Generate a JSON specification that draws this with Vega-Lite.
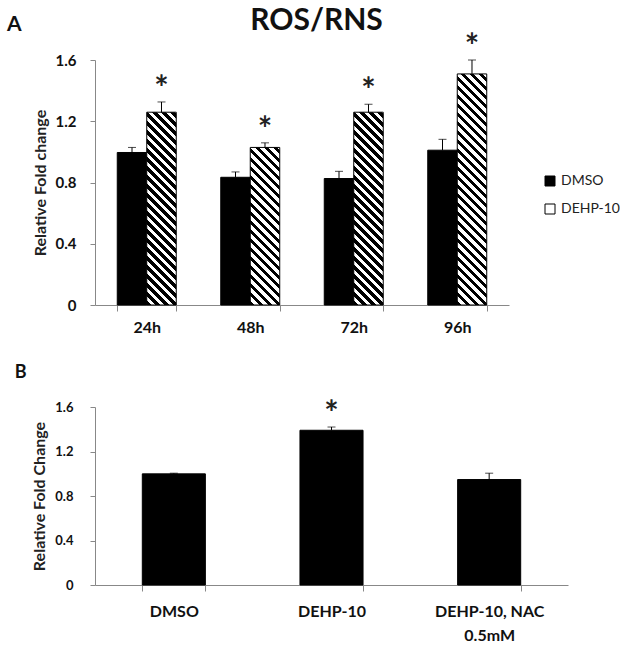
{
  "$schema": "https://vega.github.io/schema/vega-lite/v6.json",
  "padding": {"left": 7, "top": 6, "right": 0, "bottom": 0},
  "title": {"text": "ROS/RNS", "font": "Lato", "fontSize": 30, "fontWeight": "bold", "color": "#111", "anchor": "middle", "dx": 3, "dy": 22, "offset": 0},
  "spacing": 29,
  "config": {"view": {"stroke": null}, "font": "Lato"},
  "vconcat": [
    {
      "width": 414,
      "height": 245,
      "title": {"text": "A", "anchor": "start", "frame": "bounds", "fontSize": 21, "fontWeight": "bold", "font": "Lato", "color": "#111", "dx": -25, "dy": 4, "offset": 0},
      "data": {"values": [
        {"time": "24h", "group": "DMSO", "value": 0.996, "upper": 1.029, "sig": ""},
        {"time": "24h", "group": "DEHP-10", "value": 1.259, "upper": 1.326, "sig": "*"},
        {"time": "48h", "group": "DMSO", "value": 0.834, "upper": 0.869, "sig": ""},
        {"time": "48h", "group": "DEHP-10", "value": 1.029, "upper": 1.059, "sig": "*"},
        {"time": "72h", "group": "DMSO", "value": 0.826, "upper": 0.873, "sig": ""},
        {"time": "72h", "group": "DEHP-10", "value": 1.259, "upper": 1.311, "sig": "*"},
        {"time": "96h", "group": "DMSO", "value": 1.011, "upper": 1.082, "sig": ""},
        {"time": "96h", "group": "DEHP-10", "value": 1.509, "upper": 1.6, "sig": "*"}
      ]},
      "encoding": {
        "x": {"field": "time", "type": "nominal", "sort": ["24h", "48h", "72h", "96h"],
          "scale": {"paddingInner": 0.43, "paddingOuter": 0.215},
          "axis": {"title": null, "labelAngle": 0, "labelFont": "Lato", "labelFontSize": 16, "labelFontWeight": "bold", "labelColor": "#111", "domainColor": "#888", "tickColor": "#888", "tickSize": 6, "tickBand": "extent", "labelPadding": 8}},
        "xOffset": {"field": "group", "type": "nominal", "sort": ["DMSO", "DEHP-10"], "scale": {"paddingInner": 0, "paddingOuter": 0}}
      },
      "layer": [
        {
          "mark": {"type": "bar", "stroke": "#000", "strokeWidth": 1},
          "encoding": {
            "y": {"field": "value", "type": "quantitative", "title": "Relative Fold change",
              "scale": {"domain": [0, 1.6], "nice": false},
              "axis": {"values": [0, 0.4, 0.8, 1.2, 1.6], "format": "~f", "grid": false, "domainColor": "#888", "tickColor": "#888", "tickSize": 5, "labelPadding": 14, "labelFont": "Lato", "labelFontSize": 15, "labelFontWeight": "bold", "labelColor": "#111", "titleFont": "Lato", "titleFontSize": 16, "titleFontWeight": "bold", "titleColor": "#222", "titlePadding": 7}},
            "fill": {
              "field": "group", "type": "nominal",
              "scale": {"domain": ["DMSO", "DEHP-10"], "range": ["#000", "#fff"]},
              "legend": {"title": null, "orient": "none", "legendX": 448, "legendY": 114, "symbolType": "square", "symbolSize": 100, "symbolStrokeColor": "#000", "symbolStrokeWidth": 1, "labelFont": "Lato", "labelFontSize": 14, "labelColor": "#222", "rowPadding": 14, "labelOffset": 4},
              "condition": [
                {"test": "datum.group === 'DEHP-10' && (datum.time === '24h' || datum.time === '72h')",
                 "value": {"gradient": "linear", "x1": 0, "y1": 1, "x2": 0.27888, "y2": -0.8236, "stops": [
                  {"offset": 0, "color": "#000"}, {"offset": 0.0125, "color": "#000"}, {"offset": 0.0125, "color": "#fff"}, {"offset": 0.025, "color": "#fff"},
                  {"offset": 0.025, "color": "#000"}, {"offset": 0.0375, "color": "#000"}, {"offset": 0.0375, "color": "#fff"}, {"offset": 0.05, "color": "#fff"},
                  {"offset": 0.05, "color": "#000"}, {"offset": 0.0625, "color": "#000"}, {"offset": 0.0625, "color": "#fff"}, {"offset": 0.075, "color": "#fff"},
                  {"offset": 0.075, "color": "#000"}, {"offset": 0.0875, "color": "#000"}, {"offset": 0.0875, "color": "#fff"}, {"offset": 0.1, "color": "#fff"},
                  {"offset": 0.1, "color": "#000"}, {"offset": 0.1125, "color": "#000"}, {"offset": 0.1125, "color": "#fff"}, {"offset": 0.125, "color": "#fff"},
                  {"offset": 0.125, "color": "#000"}, {"offset": 0.1375, "color": "#000"}, {"offset": 0.1375, "color": "#fff"}, {"offset": 0.15, "color": "#fff"},
                  {"offset": 0.15, "color": "#000"}, {"offset": 0.1625, "color": "#000"}, {"offset": 0.1625, "color": "#fff"}, {"offset": 0.175, "color": "#fff"},
                  {"offset": 0.175, "color": "#000"}, {"offset": 0.1875, "color": "#000"}, {"offset": 0.1875, "color": "#fff"}, {"offset": 0.2, "color": "#fff"},
                  {"offset": 0.2, "color": "#000"}, {"offset": 0.2125, "color": "#000"}, {"offset": 0.2125, "color": "#fff"}, {"offset": 0.225, "color": "#fff"},
                  {"offset": 0.225, "color": "#000"}, {"offset": 0.2375, "color": "#000"}, {"offset": 0.2375, "color": "#fff"}, {"offset": 0.25, "color": "#fff"},
                  {"offset": 0.25, "color": "#000"}, {"offset": 0.2625, "color": "#000"}, {"offset": 0.2625, "color": "#fff"}, {"offset": 0.275, "color": "#fff"},
                  {"offset": 0.275, "color": "#000"}, {"offset": 0.2875, "color": "#000"}, {"offset": 0.2875, "color": "#fff"}, {"offset": 0.3, "color": "#fff"},
                  {"offset": 0.3, "color": "#000"}, {"offset": 0.3125, "color": "#000"}, {"offset": 0.3125, "color": "#fff"}, {"offset": 0.325, "color": "#fff"},
                  {"offset": 0.325, "color": "#000"}, {"offset": 0.3375, "color": "#000"}, {"offset": 0.3375, "color": "#fff"}, {"offset": 0.35, "color": "#fff"},
                  {"offset": 0.35, "color": "#000"}, {"offset": 0.3625, "color": "#000"}, {"offset": 0.3625, "color": "#fff"}, {"offset": 0.375, "color": "#fff"},
                  {"offset": 0.375, "color": "#000"}, {"offset": 0.3875, "color": "#000"}, {"offset": 0.3875, "color": "#fff"}, {"offset": 0.4, "color": "#fff"},
                  {"offset": 0.4, "color": "#000"}, {"offset": 0.4125, "color": "#000"}, {"offset": 0.4125, "color": "#fff"}, {"offset": 0.425, "color": "#fff"},
                  {"offset": 0.425, "color": "#000"}, {"offset": 0.4375, "color": "#000"}, {"offset": 0.4375, "color": "#fff"}, {"offset": 0.45, "color": "#fff"},
                  {"offset": 0.45, "color": "#000"}, {"offset": 0.4625, "color": "#000"}, {"offset": 0.4625, "color": "#fff"}, {"offset": 0.475, "color": "#fff"},
                  {"offset": 0.475, "color": "#000"}, {"offset": 0.4875, "color": "#000"}, {"offset": 0.4875, "color": "#fff"}, {"offset": 0.5, "color": "#fff"},
                  {"offset": 0.5, "color": "#000"}, {"offset": 0.5125, "color": "#000"}, {"offset": 0.5125, "color": "#fff"}, {"offset": 0.525, "color": "#fff"},
                  {"offset": 0.525, "color": "#000"}, {"offset": 0.5375, "color": "#000"}, {"offset": 0.5375, "color": "#fff"}, {"offset": 0.55, "color": "#fff"},
                  {"offset": 0.55, "color": "#000"}, {"offset": 0.5625, "color": "#000"}, {"offset": 0.5625, "color": "#fff"}, {"offset": 0.575, "color": "#fff"},
                  {"offset": 0.575, "color": "#000"}, {"offset": 0.5875, "color": "#000"}, {"offset": 0.5875, "color": "#fff"}, {"offset": 0.6, "color": "#fff"},
                  {"offset": 0.6, "color": "#000"}, {"offset": 0.6125, "color": "#000"}, {"offset": 0.6125, "color": "#fff"}, {"offset": 0.625, "color": "#fff"}]}},
                {"test": "datum.group === 'DEHP-10' && datum.time === '48h'",
                 "value": {"gradient": "linear", "x1": 0, "y1": 1, "x2": 0.4126, "y2": -1.20563, "stops": [
                  {"offset": 0, "color": "#000"}, {"offset": 0.0125, "color": "#000"}, {"offset": 0.0125, "color": "#fff"}, {"offset": 0.025, "color": "#fff"},
                  {"offset": 0.025, "color": "#000"}, {"offset": 0.0375, "color": "#000"}, {"offset": 0.0375, "color": "#fff"}, {"offset": 0.05, "color": "#fff"},
                  {"offset": 0.05, "color": "#000"}, {"offset": 0.0625, "color": "#000"}, {"offset": 0.0625, "color": "#fff"}, {"offset": 0.075, "color": "#fff"},
                  {"offset": 0.075, "color": "#000"}, {"offset": 0.0875, "color": "#000"}, {"offset": 0.0875, "color": "#fff"}, {"offset": 0.1, "color": "#fff"},
                  {"offset": 0.1, "color": "#000"}, {"offset": 0.1125, "color": "#000"}, {"offset": 0.1125, "color": "#fff"}, {"offset": 0.125, "color": "#fff"},
                  {"offset": 0.125, "color": "#000"}, {"offset": 0.1375, "color": "#000"}, {"offset": 0.1375, "color": "#fff"}, {"offset": 0.15, "color": "#fff"},
                  {"offset": 0.15, "color": "#000"}, {"offset": 0.1625, "color": "#000"}, {"offset": 0.1625, "color": "#fff"}, {"offset": 0.175, "color": "#fff"},
                  {"offset": 0.175, "color": "#000"}, {"offset": 0.1875, "color": "#000"}, {"offset": 0.1875, "color": "#fff"}, {"offset": 0.2, "color": "#fff"},
                  {"offset": 0.2, "color": "#000"}, {"offset": 0.2125, "color": "#000"}, {"offset": 0.2125, "color": "#fff"}, {"offset": 0.225, "color": "#fff"},
                  {"offset": 0.225, "color": "#000"}, {"offset": 0.2375, "color": "#000"}, {"offset": 0.2375, "color": "#fff"}, {"offset": 0.25, "color": "#fff"},
                  {"offset": 0.25, "color": "#000"}, {"offset": 0.2625, "color": "#000"}, {"offset": 0.2625, "color": "#fff"}, {"offset": 0.275, "color": "#fff"},
                  {"offset": 0.275, "color": "#000"}, {"offset": 0.2875, "color": "#000"}, {"offset": 0.2875, "color": "#fff"}, {"offset": 0.3, "color": "#fff"},
                  {"offset": 0.3, "color": "#000"}, {"offset": 0.3125, "color": "#000"}, {"offset": 0.3125, "color": "#fff"}, {"offset": 0.325, "color": "#fff"},
                  {"offset": 0.325, "color": "#000"}, {"offset": 0.3375, "color": "#000"}, {"offset": 0.3375, "color": "#fff"}, {"offset": 0.35, "color": "#fff"},
                  {"offset": 0.35, "color": "#000"}, {"offset": 0.3625, "color": "#000"}, {"offset": 0.3625, "color": "#fff"}, {"offset": 0.375, "color": "#fff"},
                  {"offset": 0.375, "color": "#000"}, {"offset": 0.3875, "color": "#000"}, {"offset": 0.3875, "color": "#fff"}, {"offset": 0.4, "color": "#fff"},
                  {"offset": 0.4, "color": "#000"}, {"offset": 0.4125, "color": "#000"}, {"offset": 0.4125, "color": "#fff"}, {"offset": 0.425, "color": "#fff"},
                  {"offset": 0.425, "color": "#000"}, {"offset": 0.4375, "color": "#000"}, {"offset": 0.4375, "color": "#fff"}, {"offset": 0.45, "color": "#fff"},
                  {"offset": 0.45, "color": "#000"}, {"offset": 0.4625, "color": "#000"}, {"offset": 0.4625, "color": "#fff"}, {"offset": 0.475, "color": "#fff"},
                  {"offset": 0.475, "color": "#000"}, {"offset": 0.4875, "color": "#000"}, {"offset": 0.4875, "color": "#fff"}, {"offset": 0.5, "color": "#fff"},
                  {"offset": 0.5, "color": "#000"}, {"offset": 0.5125, "color": "#000"}, {"offset": 0.5125, "color": "#fff"}, {"offset": 0.525, "color": "#fff"}]}},
                {"test": "datum.group === 'DEHP-10' && datum.time === '96h'",
                 "value": {"gradient": "linear", "x1": 0, "y1": 1, "x2": 0.19549, "y2": -0.53215, "stops": [
                  {"offset": 0, "color": "#000"}, {"offset": 0.0125, "color": "#000"}, {"offset": 0.0125, "color": "#fff"}, {"offset": 0.025, "color": "#fff"},
                  {"offset": 0.025, "color": "#000"}, {"offset": 0.0375, "color": "#000"}, {"offset": 0.0375, "color": "#fff"}, {"offset": 0.05, "color": "#fff"},
                  {"offset": 0.05, "color": "#000"}, {"offset": 0.0625, "color": "#000"}, {"offset": 0.0625, "color": "#fff"}, {"offset": 0.075, "color": "#fff"},
                  {"offset": 0.075, "color": "#000"}, {"offset": 0.0875, "color": "#000"}, {"offset": 0.0875, "color": "#fff"}, {"offset": 0.1, "color": "#fff"},
                  {"offset": 0.1, "color": "#000"}, {"offset": 0.1125, "color": "#000"}, {"offset": 0.1125, "color": "#fff"}, {"offset": 0.125, "color": "#fff"},
                  {"offset": 0.125, "color": "#000"}, {"offset": 0.1375, "color": "#000"}, {"offset": 0.1375, "color": "#fff"}, {"offset": 0.15, "color": "#fff"},
                  {"offset": 0.15, "color": "#000"}, {"offset": 0.1625, "color": "#000"}, {"offset": 0.1625, "color": "#fff"}, {"offset": 0.175, "color": "#fff"},
                  {"offset": 0.175, "color": "#000"}, {"offset": 0.1875, "color": "#000"}, {"offset": 0.1875, "color": "#fff"}, {"offset": 0.2, "color": "#fff"},
                  {"offset": 0.2, "color": "#000"}, {"offset": 0.2125, "color": "#000"}, {"offset": 0.2125, "color": "#fff"}, {"offset": 0.225, "color": "#fff"},
                  {"offset": 0.225, "color": "#000"}, {"offset": 0.2375, "color": "#000"}, {"offset": 0.2375, "color": "#fff"}, {"offset": 0.25, "color": "#fff"},
                  {"offset": 0.25, "color": "#000"}, {"offset": 0.2625, "color": "#000"}, {"offset": 0.2625, "color": "#fff"}, {"offset": 0.275, "color": "#fff"},
                  {"offset": 0.275, "color": "#000"}, {"offset": 0.2875, "color": "#000"}, {"offset": 0.2875, "color": "#fff"}, {"offset": 0.3, "color": "#fff"},
                  {"offset": 0.3, "color": "#000"}, {"offset": 0.3125, "color": "#000"}, {"offset": 0.3125, "color": "#fff"}, {"offset": 0.325, "color": "#fff"},
                  {"offset": 0.325, "color": "#000"}, {"offset": 0.3375, "color": "#000"}, {"offset": 0.3375, "color": "#fff"}, {"offset": 0.35, "color": "#fff"},
                  {"offset": 0.35, "color": "#000"}, {"offset": 0.3625, "color": "#000"}, {"offset": 0.3625, "color": "#fff"}, {"offset": 0.375, "color": "#fff"},
                  {"offset": 0.375, "color": "#000"}, {"offset": 0.3875, "color": "#000"}, {"offset": 0.3875, "color": "#fff"}, {"offset": 0.4, "color": "#fff"},
                  {"offset": 0.4, "color": "#000"}, {"offset": 0.4125, "color": "#000"}, {"offset": 0.4125, "color": "#fff"}, {"offset": 0.425, "color": "#fff"},
                  {"offset": 0.425, "color": "#000"}, {"offset": 0.4375, "color": "#000"}, {"offset": 0.4375, "color": "#fff"}, {"offset": 0.45, "color": "#fff"},
                  {"offset": 0.45, "color": "#000"}, {"offset": 0.4625, "color": "#000"}, {"offset": 0.4625, "color": "#fff"}, {"offset": 0.475, "color": "#fff"},
                  {"offset": 0.475, "color": "#000"}, {"offset": 0.4875, "color": "#000"}, {"offset": 0.4875, "color": "#fff"}, {"offset": 0.5, "color": "#fff"},
                  {"offset": 0.5, "color": "#000"}, {"offset": 0.5125, "color": "#000"}, {"offset": 0.5125, "color": "#fff"}, {"offset": 0.525, "color": "#fff"},
                  {"offset": 0.525, "color": "#000"}, {"offset": 0.5375, "color": "#000"}, {"offset": 0.5375, "color": "#fff"}, {"offset": 0.55, "color": "#fff"},
                  {"offset": 0.55, "color": "#000"}, {"offset": 0.5625, "color": "#000"}, {"offset": 0.5625, "color": "#fff"}, {"offset": 0.575, "color": "#fff"},
                  {"offset": 0.575, "color": "#000"}, {"offset": 0.5875, "color": "#000"}, {"offset": 0.5875, "color": "#fff"}, {"offset": 0.6, "color": "#fff"},
                  {"offset": 0.6, "color": "#000"}, {"offset": 0.6125, "color": "#000"}, {"offset": 0.6125, "color": "#fff"}, {"offset": 0.625, "color": "#fff"},
                  {"offset": 0.625, "color": "#000"}, {"offset": 0.6375, "color": "#000"}, {"offset": 0.6375, "color": "#fff"}, {"offset": 0.65, "color": "#fff"},
                  {"offset": 0.65, "color": "#000"}, {"offset": 0.6625, "color": "#000"}, {"offset": 0.6625, "color": "#fff"}, {"offset": 0.675, "color": "#fff"},
                  {"offset": 0.675, "color": "#000"}, {"offset": 0.6875, "color": "#000"}, {"offset": 0.6875, "color": "#fff"}, {"offset": 0.7, "color": "#fff"},
                  {"offset": 0.7, "color": "#000"}, {"offset": 0.7125, "color": "#000"}, {"offset": 0.7125, "color": "#fff"}, {"offset": 0.725, "color": "#fff"},
                  {"offset": 0.725, "color": "#000"}, {"offset": 0.7375, "color": "#000"}, {"offset": 0.7375, "color": "#fff"}, {"offset": 0.75, "color": "#fff"}]}}
              ]
            }
          }
        },
        {
          "mark": {"type": "rule", "color": "#000", "strokeWidth": 1},
          "encoding": {
            "y": {"field": "upper", "type": "quantitative", "title": "Relative Fold change"},
            "y2": {"field": "value"}
          }
        },
        {
          "mark": {"type": "tick", "color": "#000", "thickness": 1, "size": 8},
          "encoding": {"y": {"field": "upper", "type": "quantitative", "title": "Relative Fold change"}}
        },
        {
          "mark": {"type": "text", "font": "Lato", "fontSize": 34, "fontWeight": "bold", "color": "#222", "baseline": "alphabetic", "dy": -2},
          "encoding": {
            "y": {"field": "upper", "type": "quantitative", "title": "Relative Fold change"},
            "text": {"field": "sig"}
          }
        }
      ]
    },
    {
      "width": 473,
      "height": 178,
      "title": {"text": "B", "anchor": "start", "frame": "bounds", "fontSize": 18, "fontWeight": "bold", "font": "Lato", "color": "#111", "dx": -17, "offset": 16},
      "data": {"values": [
        {"cond": "DMSO", "value": 0.999, "upper": 1.005, "sig": ""},
        {"cond": "DEHP-10", "value": 1.391, "upper": 1.42, "sig": "*"},
        {"cond": "DEHP-10, NAC 0.5mM", "value": 0.948, "upper": 1.005, "sig": ""}
      ]},
      "encoding": {
        "x": {"field": "cond", "type": "nominal", "sort": ["DMSO", "DEHP-10", "DEHP-10, NAC 0.5mM"],
          "scale": {"paddingInner": 0.6, "paddingOuter": 0.3},
          "axis": {"title": null, "labelAngle": 0, "labelFont": "Lato", "labelFontSize": 16, "labelFontWeight": "bold", "labelColor": "#111", "domainColor": "#888", "tickColor": "#888", "tickSize": 6, "tickBand": "extent", "labelPadding": 12, "labelLineHeight": 24,
            "labelExpr": "datum.value === 'DEHP-10, NAC 0.5mM' ? ['DEHP-10, NAC', '0.5mM'] : datum.label"}}
      },
      "layer": [
        {
          "mark": {"type": "bar", "color": "#000", "stroke": "#000", "strokeWidth": 1},
          "encoding": {
            "y": {"field": "value", "type": "quantitative", "title": "Relative Fold Change",
              "scale": {"domain": [0, 1.6], "nice": false},
              "axis": {"values": [0, 0.4, 0.8, 1.2, 1.6], "format": "~f", "grid": false, "domainColor": "#888", "tickColor": "#888", "tickSize": 5, "labelPadding": 17, "labelFont": "Lato", "labelFontSize": 13, "labelFontWeight": "bold", "labelColor": "#111", "titleFont": "Lato", "titleFontSize": 16, "titleFontWeight": "bold", "titleColor": "#222", "titlePadding": 7}}
          }
        },
        {
          "mark": {"type": "rule", "color": "#000", "strokeWidth": 1},
          "encoding": {
            "y": {"field": "upper", "type": "quantitative", "title": "Relative Fold Change"},
            "y2": {"field": "value"}
          }
        },
        {
          "mark": {"type": "tick", "color": "#000", "thickness": 1, "size": 8},
          "encoding": {"y": {"field": "upper", "type": "quantitative", "title": "Relative Fold Change"}}
        },
        {
          "mark": {"type": "text", "font": "Lato", "fontSize": 34, "fontWeight": "bold", "color": "#222", "baseline": "alphabetic", "dy": -2},
          "encoding": {
            "y": {"field": "upper", "type": "quantitative", "title": "Relative Fold Change"},
            "text": {"field": "sig"}
          }
        }
      ]
    }
  ]
}
